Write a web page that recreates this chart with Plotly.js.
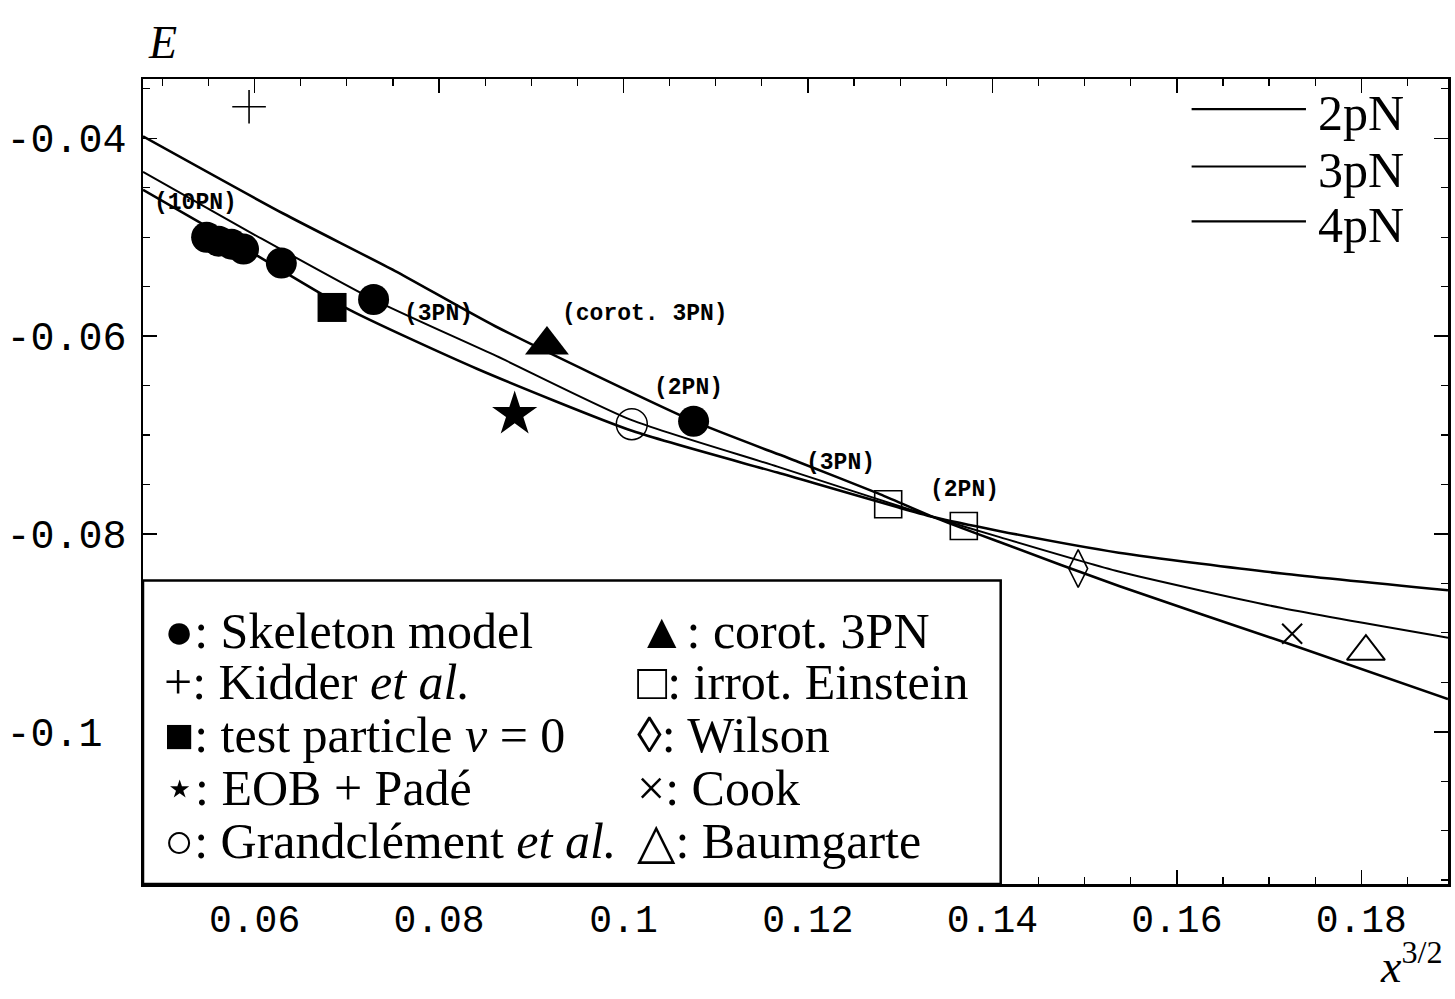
<!DOCTYPE html>
<html><head><meta charset="utf-8">
<script src="https://cdn.plot.ly/plotly-3.0.1.min.js"></script>
<style>html,body{margin:0;padding:0;background:#fff;}#chart{width:1455px;height:999px;}</style>
</head><body><div id="chart"></div>
<script>
// ---- curves ----
const pn2X = [0.0479, 0.0631, 0.0752, 0.0861, 0.1076, 0.1189, 0.1276, 0.1336, 0.1407, 0.1538, 0.1715, 0.1894];
const pn2Y = [-0.0398, -0.0476, -0.0534, -0.0590, -0.0686, -0.0727, -0.0759, -0.0783, -0.0808, -0.0853, -0.0909, -0.0967];
const pn3X = [0.0479, 0.0599, 0.0729, 0.0862, 0.1009, 0.1167, 0.1336, 0.1407, 0.1537, 0.1714, 0.1894];
const pn3Y = [-0.0434, -0.0497, -0.0563, -0.0620, -0.0685, -0.0732, -0.0783, -0.0803, -0.0838, -0.0875, -0.0905];
const pn4X = [0.0479, 0.0589, 0.0702, 0.0841, 0.1010, 0.1167, 0.1336, 0.1407, 0.1537, 0.1714, 0.1894];
const pn4Y = [-0.0452, -0.0511, -0.0573, -0.0633, -0.0696, -0.0738, -0.0783, -0.0797, -0.0819, -0.0840, -0.0857];

// ---- data points ----
const skeletonX = [0.0548, 0.0561, 0.0575, 0.0588, 0.0629, 0.0729, 0.1076];
const skeletonY = [-0.0500, -0.0504, -0.0507, -0.0512, -0.0526, -0.0563, -0.0686];
const kidderX = [0.0594], kidderY = [-0.0368];
const testX = [0.0684], testY = [-0.0571];
const eobX = [0.0882], eobY = [-0.0679];
const grandX = [0.1009], grandY = [-0.0689];
const corotX = [0.0917], corotY = [-0.0609];
const irrotX = [0.1287, 0.1369], irrotY = [-0.0770, -0.0792];
const wilsonX = [0.1493], wilsonY = [-0.0835];
const cookX = [0.1725], cookY = [-0.0901];
const baumX = [0.1805], baumY = [-0.0919];

// ---- point labels ----
const pnLabelText = ['(10PN)', '(3PN)', '(corot. 3PN)', '(2PN)', '(3PN)', '(2PN)'];
const pnLabelX = [0.0536, 0.0799, 0.1023, 0.1070, 0.1235, 0.1370];
const pnLabelY = [-0.0465, -0.0578, -0.0578, -0.0652, -0.0728, -0.0756];

// ---- ticks ----
const xTicks = [0.06, 0.08, 0.10, 0.12, 0.14, 0.16, 0.18];
const xTickText = ['0.06', '0.08', '0.1', '0.12', '0.14', '0.16', '0.18'];
const yTicks = [-0.10, -0.08, -0.06, -0.04];
const yTickText = ['-0.1\u00a0', '-0.08', '-0.06', '-0.04'];

// ---- legends ----
const curveNames = ['2pN', '3pN', '4pN'];
const curveLegendY = [-0.03705, -0.04285, -0.0484];
const legendLeft = ['\u25CF: Skeleton model', '+: Kidder <i>et al.</i>', '\u25A0: test particle <i>\u03BD</i> = 0', '\u22C6: EOB + Pad\u00E9', '\u25CB: Grandcl\u00E9ment <i>et al.</i>'];
const legendRight = ['\u25B2: corot. 3PN', '\u25A1: irrot. Einstein', '\u25CA: Wilson', '\u00D7: Cook', '\u25B3: Baumgarte'];
const legendRowY = [-0.0898, -0.0950, -0.1003, -0.1057, -0.1111];

const xRange = [0.0479, 0.1894];
const yRange = [-0.1154, -0.0340];

function curve(x, y, name, w) {
  return {type: 'scatter', mode: 'lines', x: x, y: y, name: name, hoverinfo: 'skip', showlegend: false,
    line: {color: 'black', width: w, shape: 'spline', smoothing: 0.6}};
}
function pts(x, y, name, symbol, size, lw) {
  return {type: 'scatter', mode: 'markers', x: x, y: y, name: name, showlegend: false, cliponaxis: false,
    marker: {symbol: symbol, size: size, color: 'black', line: {color: 'black', width: lw}}};
}

const traces = [
  curve(pn2X, pn2Y, '2pN', 2.6),
  curve(pn3X, pn3Y, '3pN', 2.0),
  curve(pn4X, pn4Y, '4pN', 2.6),
  pts(skeletonX, skeletonY, 'Skeleton model', 'circle', 31, 0),
  pts(kidderX, kidderY, 'Kidder et al.', 'cross-thin-open', 24, 1.6),
  pts(testX, testY, 'test particle', 'square', 29, 0),
  pts(eobX, eobY, 'EOB + Padé', 'star', 34, 0),
  pts(grandX, grandY, 'Grandclément et al.', 'circle-open', 31, 1.5),
  pts(corotX, corotY, 'corot. 3PN', 'triangle-up', 38, 0),
  pts(irrotX, irrotY, 'irrot. Einstein', 'square-open', 27, 1.6),
  pts(wilsonX, wilsonY, 'Wilson', 'diamond-tall-open', 27, 1.6),
  pts(cookX, cookY, 'Cook', 'x-thin-open', 20, 2),
  pts(baumX, baumY, 'Baumgarte', 'triangle-up-open', 33, 2)
];

const annotations = [];
for (let i = 0; i < pnLabelText.length; i++) {
  annotations.push({x: pnLabelX[i], y: pnLabelY[i], xref: 'x', yref: 'y', text: '<b>' + pnLabelText[i] + '</b>',
    showarrow: false, xanchor: 'center', yanchor: 'middle',
    font: {family: 'Liberation Mono', size: 23, color: 'black'}});
}
const serif = 'Liberation Serif, DejaVu Serif, serif';
for (let i = 0; i < legendLeft.length; i++) {
  annotations.push({x: 0.0500, y: legendRowY[i], xref: 'x', yref: 'y', text: legendLeft[i], showarrow: false,
    xanchor: 'left', yanchor: 'middle', font: {family: serif, size: 50, color: 'black'}});
  annotations.push({x: 0.1013, y: legendRowY[i], xref: 'x', yref: 'y', text: legendRight[i], showarrow: false,
    xanchor: 'left', yanchor: 'middle', font: {family: serif, size: 50, color: 'black'}});
}
const shapes = [];
for (let i = 0; i < curveNames.length; i++) {
  shapes.push({type: 'line', xref: 'x', yref: 'y', x0: 0.1616, x1: 0.1740, y0: curveLegendY[i], y1: curveLegendY[i],
    line: {color: 'black', width: 2.2}});
  annotations.push({x: 0.1751, y: curveLegendY[i] - 0.0004, xref: 'x', yref: 'y', text: curveNames[i], showarrow: false,
    xanchor: 'left', yanchor: 'middle', font: {family: serif, size: 50, color: 'black'}});
}
// legend box (lower left), sharing the left and bottom axes
shapes.push({type: 'rect', xref: 'x', yref: 'y', x0: xRange[0], x1: 0.1409, y0: yRange[0], y1: -0.0847,
  fillcolor: 'white', line: {color: 'black', width: 2.5}, layer: 'above'});
// axis titles
annotations.push({x: 0.0146, y: 1.045, xref: 'paper', yref: 'paper', text: '<i>E</i>', showarrow: false,
  xanchor: 'center', yanchor: 'middle', font: {family: serif, size: 46, color: 'black'}});
annotations.push({x: 0.972, y: -0.098, xref: 'paper', yref: 'paper', text: '<i>x</i><sup>3/2</sup>', showarrow: false,
  xanchor: 'center', yanchor: 'middle', font: {family: serif, size: 46, color: 'black'}});

const axisCommon = {
  ticks: 'inside', ticklen: 14, tickwidth: 1.6, tickcolor: 'black', showline: true, linewidth: 2.5,
  linecolor: 'black', mirror: 'ticks', showgrid: false, zeroline: false
};
const mono = 'Liberation Mono, DejaVu Sans Mono, monospace';
const layout = {
  width: 1455, height: 999,
  margin: {l: 143, r: 7, t: 79, b: 115},
  paper_bgcolor: 'white', plot_bgcolor: 'white', showlegend: false,
  xaxis: Object.assign({}, axisCommon, {range: xRange, tickmode: 'array', tickvals: xTicks, ticktext: xTickText,
    ticklabelstandoff: 0, tickfont: {family: mono, size: 38, color: 'black'},
    minor: {tick0: 0.05, dtick: 0.005, ticks: 'inside', ticklen: 7, tickwidth: 1.2, tickcolor: 'black', showgrid: false}}),
  yaxis: Object.assign({}, axisCommon, {range: yRange, tickmode: 'array', tickvals: yTicks, ticktext: yTickText,
    ticklabelstandoff: 6, tickfont: {family: mono, size: 40, color: 'black'},
    minor: {tick0: -0.1, dtick: 0.005, ticks: 'inside', ticklen: 7, tickwidth: 1.2, tickcolor: 'black', showgrid: false}}),
  annotations: annotations,
  shapes: shapes
};
Plotly.newPlot('chart', traces, layout, {displayModeBar: false, staticPlot: true});
</script>
</body></html>
